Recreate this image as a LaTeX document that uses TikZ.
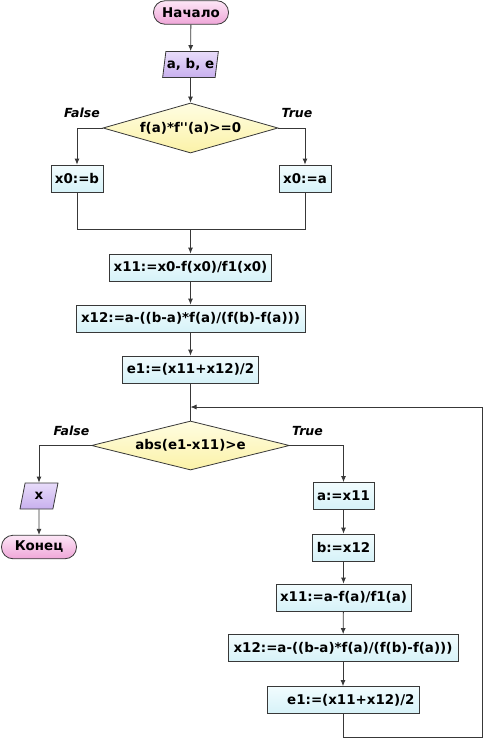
\documentclass[tikz,border=0pt]{standalone}
\usepackage{fontspec}
\setmainfont{DejaVu Sans}[Ligatures=TeXOff]
\usetikzlibrary{shapes.geometric,arrows.meta}
\definecolor{edge}{HTML}{383838}
\definecolor{termtop}{HTML}{FCE6F6}
\definecolor{termbot}{HTML}{EFA6D8}
\definecolor{iotop}{HTML}{E8DCFA}
\definecolor{iobot}{HTML}{C8B0EE}
\definecolor{dectop}{HTML}{FFFDE2}
\definecolor{decbot}{HTML}{FBF2A8}
\definecolor{proctop}{HTML}{F2FCFE}
\definecolor{procbot}{HTML}{D6F2F8}
\tikzset{
  base/.style={draw=edge, line width=0.8pt, font=\fontsize{13.4}{15}\selectfont\bfseries, text=black, inner xsep=4pt, inner ysep=0pt},
  termbox/.style={base, rectangle, rounded corners=11.5pt, minimum height=23.5pt, top color=termtop, bottom color=termbot},
  iobox/.style={base, trapezium, trapezium left angle=75, trapezium right angle=105, trapezium stretches=true, minimum height=26pt, inner xsep=1pt, top color=iotop, bottom color=iobot},
  decbox/.style={base, diamond, inner sep=0pt, top color=dectop, bottom color=decbot},
  procbox/.style={base, rectangle, minimum height=27pt, top color=proctop, bottom color=procbot},
  conn/.style={draw=edge, line width=0.8pt},
  arr/.style={conn, -{Latex[length=6pt,width=5pt]}},
  lab/.style={font=\fontsize{12.5}{14}\selectfont\bfseries\itshape}
}
\begin{document}
\begin{tikzpicture}[x=1pt,y=-1pt]
\useasboundingbox[fill=white] (0,0) rectangle (497,752);
% upper part
\node[termbox, minimum width=75pt] (start) at (191,12.5) {Начало};
\node[iobox, minimum width=54pt] (inp) at (190.5,64.5) {a, b, e};
\node[decbox, minimum width=175pt, minimum height=50pt, aspect=3.5] (d1) at (190.5,128) {f(a)*f''(a)>=0};
\node[lab] (f1) at (82,113) {False};
\node[lab] (t1) at (297,113) {True};
\node[procbox, minimum width=52pt] (x0b) at (77,178.5) {x0:=b};
\node[procbox, minimum width=52pt] (x0a) at (305,178.5) {x0:=a};
\coordinate (j1) at (190.5,229);
\node[procbox, minimum width=162pt] (x11) at (190.5,267.5) {x11:=x0-f(x0)/f1(x0)};
\node[procbox, minimum width=229pt] (x12) at (190.5,318.5) {x12:=a-((b-a)*f(a)/(f(b)-f(a)))};
\node[procbox, minimum width=136pt] (e1) at (190.5,369.5) {e1:=(x11+x12)/2};
\coordinate (m) at (190.5,407);
\node[decbox, minimum width=198pt, minimum height=49pt, aspect=4] (d2) at (190.5,445.5) {abs(e1-x11)>e};
\node[lab] (f2) at (71.5,431) {False};
\node[lab] (t2) at (307.5,431) {True};
% left branch
\node[iobox, minimum width=38pt] (outp) at (39,496) {x};
\node[termbox, minimum width=75pt] (stop) at (39,547) {Конец};
% right branch
\node[procbox, minimum width=61pt] (a1) at (343.5,496) {a:=x11};
\node[procbox, minimum width=61pt] (b1) at (343.5,547.5) {b:=x12};
\node[procbox, minimum width=135pt] (x11b) at (343.5,597.5) {x11:=a-f(a)/f1(a)};
\node[procbox, minimum width=230pt] (x12b) at (343,648) {x12:=a-((b-a)*f(a)/(f(b)-f(a)))};
\node[procbox, text width=143pt, align=right, inner xsep=4.5pt] (e1b) at (343,700) {e1:=(x11+x12)/2};
\coordinate (lp) at (482,737);
% connectors
\draw[arr] (start) -- (inp);
\draw[arr] (inp) -- (d1);
\draw[arr] (d1.west) -| (x0b.north);
\draw[arr] (d1.east) -| (x0a.north);
\draw[conn] (x0b.south) |- (j1);
\draw[conn] (x0a.south) |- (j1);
\draw[arr] (j1) -- (x11);
\draw[arr] (x11) -- (x12);
\draw[arr] (x12) -- (e1);
\draw[conn] (e1) -- (d2.north);
\draw[arr] (d2.west) -| (outp.north);
\draw[arr] (outp) -- (stop);
\draw[arr] (d2.east) -| (a1.north);
\draw[arr] (a1) -- (b1);
\draw[arr] (b1) -- (x11b);
\draw[arr] (x11b) -- (x12b);
\draw[arr] (x12b) -- (e1b);
\draw[arr] (e1b.south) |- (lp) |- (m);
\end{tikzpicture}
\end{document}
